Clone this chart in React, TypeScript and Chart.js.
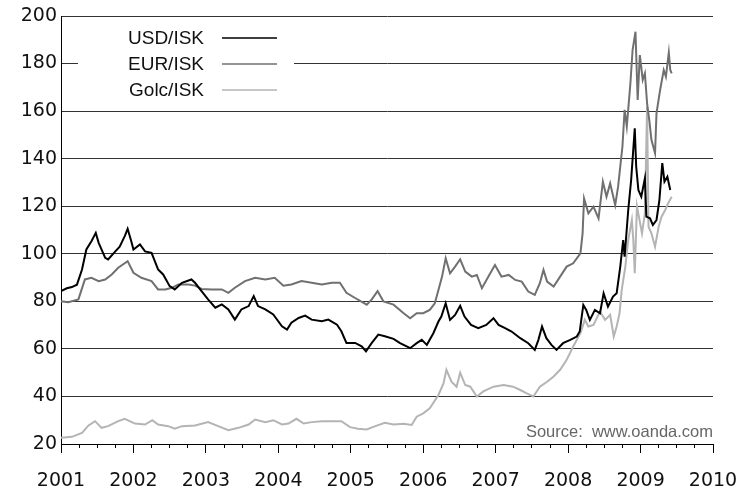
import React, { useEffect, useRef } from 'react';
import { Chart, registerables } from 'chart.js';

Chart.register(...registerables);

// ---- Data (decimal years, ISK values) ----
const seriesNames = ['USD/ISK', 'EUR/ISK', 'Golc/ISK'];
const seriesColors = ['#000000', '#707070', '#b4b4b4'];

const usdDates = [
  2001.0, 2001.08, 2001.15, 2001.22, 2001.29, 2001.35, 2001.42, 2001.48, 2001.52, 2001.61,
  2001.65, 2001.75, 2001.81, 2001.88, 2001.92, 2001.97, 2002.0, 2002.09, 2002.16, 2002.25,
  2002.34, 2002.41, 2002.5, 2002.57, 2002.67, 2002.8, 2002.85, 2002.94, 2003.03, 2003.13,
  2003.22, 2003.31, 2003.4, 2003.49, 2003.59, 2003.66, 2003.72, 2003.82, 2003.93, 2004.05,
  2004.12, 2004.18, 2004.28, 2004.37, 2004.46, 2004.6, 2004.69, 2004.81, 2004.87, 2004.94,
  2005.06, 2005.15, 2005.21, 2005.29, 2005.38, 2005.47, 2005.59, 2005.68, 2005.82, 2005.91,
  2005.98, 2006.05, 2006.14, 2006.21, 2006.25, 2006.31, 2006.37, 2006.44, 2006.51, 2006.57,
  2006.66, 2006.76, 2006.87, 2006.97, 2007.04, 2007.13, 2007.22, 2007.34, 2007.45, 2007.54,
  2007.59, 2007.64, 2007.7, 2007.77, 2007.84, 2007.93, 2008.03, 2008.12, 2008.16, 2008.21,
  2008.25, 2008.3, 2008.37, 2008.44, 2008.49, 2008.55, 2008.62, 2008.67, 2008.72, 2008.76,
  2008.78, 2008.83, 2008.87, 2008.92, 2008.94, 2008.97, 2009.01, 2009.06, 2009.08, 2009.13,
  2009.17, 2009.22, 2009.26, 2009.3, 2009.33, 2009.37, 2009.41,
];
const usdValues = [
  84.3, 85.5, 86, 87, 93.4, 101.8, 105.3, 108.8, 104.6, 98.3,
  97.6, 101, 103, 107.4, 110.5, 105.3, 101.8, 103.9, 101, 100.4,
  93.4, 91.3, 86.4, 85, 87.8, 89.2, 87.8, 84.3, 80.8, 77.3,
  78.7, 76.6, 72.3, 76.6, 78, 82.2, 78, 76.6, 74.5, 69.5,
  68.1, 71, 73, 74, 72.3, 71.6, 72.3, 70.2, 67.4, 62.5,
  62.5, 61.1, 59, 62.5, 66, 65.3, 64.2, 62.4, 60.3, 62.4,
  63.8, 61.7, 66.6, 71.5, 73.6, 79.2, 72.2, 74.3, 78.1, 73.6,
  70.1, 68.7, 70.1, 72.9, 70.1, 68.7, 67.3, 64.5, 62.4, 59.6,
  63.8, 69.4, 64.5, 61.7, 59.6, 62.4, 63.8, 65.2, 67.3, 78.5,
  76.4, 72.2, 76.4, 75, 83.4, 77.8, 82, 83.4, 94.6, 105.8,
  98.8, 118.4, 131, 152.8, 136.6, 126.8, 124, 131.7, 115.6, 114.9,
  112.1, 114.2, 122.6, 138.1, 130.3, 132.4, 126.8,
];

const eurDates = [
  2001.0, 2001.1, 2001.24, 2001.33, 2001.42, 2001.52, 2001.61, 2001.7, 2001.79, 2001.92,
  2002.0, 2002.11, 2002.25, 2002.34, 2002.44, 2002.53, 2002.62, 2002.76, 2002.85, 2002.94,
  2003.08, 2003.22, 2003.31, 2003.4, 2003.54, 2003.68, 2003.82, 2003.95, 2004.07, 2004.18,
  2004.32, 2004.46, 2004.6, 2004.74, 2004.85, 2004.94, 2005.06, 2005.22, 2005.29, 2005.37,
  2005.45, 2005.59, 2005.73, 2005.82, 2005.91, 2006.0, 2006.09, 2006.16, 2006.21, 2006.26,
  2006.31, 2006.37, 2006.44, 2006.51, 2006.58, 2006.67, 2006.74, 2006.81, 2006.9, 2006.99,
  2007.08, 2007.18, 2007.27, 2007.36, 2007.45, 2007.54, 2007.61, 2007.66, 2007.71, 2007.8,
  2007.89, 2007.98, 2008.07, 2008.17, 2008.2, 2008.22, 2008.28, 2008.35, 2008.42, 2008.48,
  2008.53, 2008.58, 2008.65, 2008.69, 2008.75, 2008.78, 2008.81, 2008.86, 2008.89, 2008.93,
  2008.96, 2008.99, 2009.03, 2009.06, 2009.09, 2009.12, 2009.15, 2009.2, 2009.22, 2009.27,
  2009.32, 2009.35, 2009.39, 2009.41, 2009.43,
];
const eurValues = [
  80, 79.6, 80.8, 89.2, 89.9, 88.5, 89.2, 91.3, 94.1, 96.9,
  92, 89.9, 88.5, 85, 85, 85.7, 87.1, 87.1, 86.6, 85.2,
  85, 85, 83.6, 85.7, 88.5, 89.9, 89.2, 89.9, 86.6, 87.1,
  88.5, 87.8, 87.1, 87.8, 87.8, 83.6, 81.4, 78.6, 80.8, 84.3,
  80, 78.6, 75, 72.9, 75, 75, 76.4, 79.2, 84.8, 90.4,
  98.1, 91.8, 94.6, 97.7, 92.5, 90.4, 91.1, 85.5, 90.4, 95.3,
  90.4, 91.1, 89, 88.3, 84.1, 82.7, 87.6, 93.2, 88.3, 86.2,
  90.4, 94.6, 96, 100.2, 108.6, 123.3, 117, 119.8, 114.9, 130.3,
  124, 129.6, 120.5, 128.2, 145.1, 160.5, 153.5, 171.7, 185.7, 193.4,
  164.7, 183.6, 173.1, 175.9, 163.3, 156.3, 147.9, 142.3, 159.1, 168.9,
  177.3, 174.5, 184.6, 177.3, 175.9,
];

const golcDates = [
  2001.0, 2001.15, 2001.29, 2001.38, 2001.47, 2001.56, 2001.65, 2001.79, 2001.88, 2002.02,
  2002.16, 2002.26, 2002.34, 2002.48, 2002.57, 2002.67, 2002.85, 2003.03, 2003.17, 2003.31,
  2003.45, 2003.59, 2003.68, 2003.82, 2003.93, 2004.05, 2004.14, 2004.25, 2004.35, 2004.46,
  2004.6, 2004.74, 2004.87, 2004.99, 2005.1, 2005.22, 2005.34, 2005.47, 2005.59, 2005.73,
  2005.84, 2005.91, 2006.0, 2006.09, 2006.21, 2006.28, 2006.32, 2006.39, 2006.46, 2006.51,
  2006.58, 2006.65, 2006.74, 2006.83, 2006.97, 2007.11, 2007.24, 2007.34, 2007.43, 2007.52,
  2007.61, 2007.71, 2007.8, 2007.89, 2007.98, 2008.07, 2008.17, 2008.23, 2008.28, 2008.35,
  2008.44, 2008.51, 2008.58, 2008.63, 2008.67, 2008.71, 2008.74, 2008.79, 2008.83, 2008.88,
  2008.9, 2008.92, 2008.95, 2009.02, 2009.06, 2009.09, 2009.11, 2009.15, 2009.2, 2009.25,
  2009.29, 2009.34, 2009.38, 2009.43,
];
const golcValues = [
  22.6, 23, 24.7, 27.8, 29.6, 26.8, 27.5, 29.6, 30.6, 28.6,
  28.2, 30, 28.2, 27.5, 26.4, 27.5, 27.8, 29.2, 27.5, 25.8,
  26.8, 28.2, 30.3, 29.2, 30, 28.2, 28.6, 30.6, 28.6, 29.2,
  29.6, 29.6, 29.6, 27.1, 26.4, 26.1, 27.5, 28.9, 28.2, 28.5,
  28, 31.5, 32.9, 35, 40.6, 45.5, 51.2, 46.2, 44.1, 50,
  44.8, 44.1, 40, 42.1, 44.1, 44.8, 44.1, 42.7, 41.3, 40,
  44.1, 46.2, 48.4, 51.2, 55.4, 61, 66.6, 72.2, 69.4, 70.1,
  75.7, 72.2, 74.3, 65.2, 69.4, 75, 84.8, 94.6, 105.8, 114.2,
  105.8, 91.8, 120, 108.6, 117, 161.9, 111.4, 108.6, 103, 111.4,
  115.6, 118.4, 121.2, 124,
];

const xMin = 2001;
const xMax = 2010;
const yMin = 20;
const yMax = 200;
const yStep = 20;
const sourceText = 'Source:  www.oanda.com';

const tickFont = { family: '"DejaVu Sans", sans-serif', size: 19 };

const toPoints = (xs: number[], ys: number[]) => xs.map((x, i) => ({ x, y: ys[i] }));

const overlayPlugin = {
  id: 'overlay',
  afterDatasetsDraw(chart: any) {
    const { ctx, chartArea } = chart;
    const L = chartArea.left;
    const T = chartArea.top;
    ctx.save();
    ctx.fillStyle = '#ffffff';
    ctx.fillRect(L + 17, T + 6, 216, 86);
    ctx.font = '19px "Liberation Sans", Arial, sans-serif';
    ctx.textAlign = 'right';
    ctx.textBaseline = 'middle';
    const rows = [22, 48, 74];
    seriesNames.forEach((name, i) => {
      const y = T + rows[i];
      ctx.fillStyle = '#111';
      ctx.fillText(name, L + 143, y + 1);
      ctx.strokeStyle = seriesColors[i];
      ctx.lineWidth = 1.5;
      ctx.beginPath();
      ctx.moveTo(L + 161, y);
      ctx.lineTo(L + 216, y);
      ctx.stroke();
    });
    ctx.font = '16.5px "Liberation Sans", Arial, sans-serif';
    ctx.fillStyle = '#666';
    ctx.textAlign = 'right';
    ctx.fillText(sourceText, chartArea.right, chartArea.bottom - 12);
    ctx.restore();
  },
};

export default function App() {
  const ref = useRef<HTMLCanvasElement | null>(null);

  useEffect(() => {
    if (!ref.current) return;
    const chart = new Chart(ref.current, {
      type: 'line',
      data: {
        datasets: [
          { label: seriesNames[0], data: toPoints(usdDates, usdValues), borderColor: seriesColors[0] },
          { label: seriesNames[1], data: toPoints(eurDates, eurValues), borderColor: seriesColors[1] },
          { label: seriesNames[2], data: toPoints(golcDates, golcValues), borderColor: seriesColors[2] },
        ].map((d) => ({ ...d, borderWidth: 2, pointRadius: 0, pointHoverRadius: 0, tension: 0, fill: false })),
      },
      options: {
        animation: false,
        responsive: false,
        layout: { padding: { left: 8, right: 26, top: 16, bottom: 2 } },
        plugins: { legend: { display: false }, tooltip: { enabled: false } },
        scales: {
          x: {
            type: 'linear',
            min: xMin,
            max: xMax,
            afterFit: (s: any) => {
              s.height = 45;
              s.paddingLeft = 0;
              s.paddingRight = 0;
            },
            ticks: {
              stepSize: 1,
              autoSkip: false,
              maxRotation: 0,
              padding: 17,
              color: '#111',
              font: tickFont,
              callback: (v: any) => String(v),
            },
            grid: { drawOnChartArea: false, drawTicks: true, tickLength: 9, tickColor: '#000', tickWidth: 1 },
            border: { display: true, color: '#000', width: 1 },
          },
          xMinor: {
            type: 'linear',
            axis: 'x',
            min: xMin,
            max: xMax,
            position: { y: yMin },
            ticks: { stepSize: 0.25, display: false },
            grid: { drawOnChartArea: false, drawTicks: true, tickLength: 4, tickColor: '#000', tickWidth: 1 },
            border: { display: false },
          },
          y: {
            type: 'linear',
            min: yMin,
            max: yMax,
            afterFit: (s: any) => { s.width = 53; },
            ticks: { stepSize: yStep, padding: 4, color: '#111', font: tickFont },
            grid: { color: '#333', lineWidth: 1, drawTicks: false },
            border: { display: true, color: '#000', width: 1 },
          },
        },
      } as any,
      plugins: [overlayPlugin],
    });
    return () => chart.destroy();
  }, []);

  return (
    <div style={{ position: 'fixed', left: 0, top: 0, width: 739, height: 491, background: '#fff' }}>
      <canvas ref={ref} width={739} height={491} />
    </div>
  );
}
